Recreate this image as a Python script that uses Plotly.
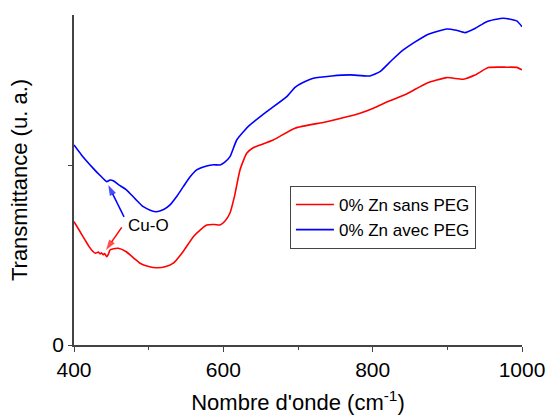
import plotly.graph_objects as go

# Wavenumbers (cm-1) and transmittance (arbitrary units)
wn_sans = [400, 407, 414.7, 420, 425.8, 429, 432.5, 435, 437, 439, 441, 443.8, 446, 448.2, 453, 459.3,
           470, 480, 488.4, 500, 510.8, 522, 533.0, 546, 559.8, 570, 577.7, 588, 595.5, 602, 608.9,
           615, 622.3, 631.3, 640, 649.1, 666.9, 696.0, 738.4, 783.0, 800.9, 822, 845.6, 872.4,
           899.2, 921.4, 937, 954.9, 979.5, 993, 1000]
t_sans = [0.688, 0.64, 0.586, 0.55, 0.520, 0.512, 0.518, 0.508, 0.514, 0.503, 0.510, 0.492, 0.505, 0.530,
          0.537, 0.539, 0.52, 0.485, 0.456, 0.438, 0.431, 0.436, 0.456, 0.52, 0.604, 0.645, 0.669, 0.672,
          0.669, 0.69, 0.736, 0.83, 0.976, 1.069, 1.10, 1.115, 1.143, 1.209, 1.245, 1.292, 1.320, 1.36,
          1.400, 1.460, 1.491, 1.482, 1.505, 1.547, 1.549, 1.548, 1.534]

wn_avec = [400, 410, 425.8, 435, 443.8, 448.2, 452.6, 460, 470.6, 482, 492.8, 502, 510.8, 520, 528.6,
           537, 546.4, 555, 564.3, 577.7, 587, 595.5, 602, 608.9, 617.9, 629.0, 635.7, 658.1, 684.9,
           696.0, 706, 720.5, 745, 769.6, 796.4, 809.8, 825, 841.0, 872.4, 899.2, 912, 923.7, 937,
           952.7, 975.0, 992.9, 1000]
t_avec = [1.115, 1.06, 0.985, 0.945, 0.911, 0.920, 0.916, 0.893, 0.864, 0.815, 0.771, 0.752, 0.743,
          0.755, 0.781, 0.825, 0.883, 0.935, 0.976, 0.998, 1.005, 1.004, 1.02, 1.050, 1.143, 1.199,
          1.227, 1.301, 1.385, 1.437, 1.462, 1.487, 1.500, 1.506, 1.500, 1.524, 1.585, 1.645, 1.729,
          1.762, 1.755, 1.742, 1.765, 1.803, 1.822, 1.807, 1.775]

names = ["0% Zn sans PEG", "0% Zn avec PEG"]
colors = ["#ff0000", "#0000ff"]
x_ticks = [400, 600, 800, 1000]
y_ticks = [0]
y_minor_ticks = [1]

# "Cu-O" label position and the two arrows (tail -> head)
label_xy = (500.4, 0.669)
arrow_blue_x = [467.0, 445.9]
arrow_blue_y = [0.714, 0.892]
arrow_red_x = [463.9, 442.9]
arrow_red_y = [0.656, 0.530]

font_family = "Arial, Liberation Sans, sans-serif"
axis_col = "#444444"

fig = go.Figure()
fig.add_trace(go.Scatter(x=wn_sans, y=t_sans, mode="lines", name=names[0],
                         line=dict(color=colors[0], width=1.6, shape="spline", smoothing=0.5)))
fig.add_trace(go.Scatter(x=wn_avec, y=t_avec, mode="lines", name=names[1],
                         line=dict(color=colors[1], width=1.6, shape="spline", smoothing=0.5)))

for ax_, ay_, c in [(arrow_blue_x, arrow_blue_y, colors[1]), (arrow_red_x, arrow_red_y, colors[0])]:
    fig.add_trace(go.Scatter(x=ax_, y=ay_, mode="lines+markers", showlegend=False, hoverinfo="skip",
                             line=dict(color=c, width=1.5),
                             marker=dict(symbol=["circle", "arrow"], size=[0, 11], color=c,
                                         angleref="previous", line=dict(width=0))))

fig.add_annotation(x=label_xy[0], y=label_xy[1], text="Cu-O", showarrow=False,
                   font=dict(size=17, color="black", family=font_family))

fig.update_layout(
    width=547, height=417,
    margin=dict(l=74, r=25, t=15, b=72, autoexpand=False),
    paper_bgcolor="white", plot_bgcolor="white",
    font=dict(family=font_family, color="black"),
    showlegend=True,
    legend=dict(x=0.482, y=0.482, xanchor="left", yanchor="top",
                bordercolor=axis_col, borderwidth=1, bgcolor="white",
                font=dict(size=17, family=font_family),
                tracegroupgap=0, itemwidth=38),
)
fig.update_xaxes(range=[400, 1000], tickvals=x_ticks, ticks="outside", ticklen=5, tickwidth=1.3,
                 tickcolor=axis_col, showline=True, linecolor=axis_col, linewidth=1.5,
                 showgrid=False, zeroline=False, tickfont=dict(size=21),
                 minor=dict(dtick=100, ticks="outside", ticklen=3, tickcolor=axis_col, tickwidth=1.3),
                 title=dict(text="Nombre d'onde (cm<sup>-1</sup>)", font=dict(size=22), standoff=15))
fig.update_yaxes(range=[0, 1.84], tickvals=y_ticks, ticks="outside", ticklen=4,
                 tickwidth=1.3, tickcolor=axis_col, showline=True, linecolor=axis_col, linewidth=1.5,
                 showgrid=False, zeroline=False, tickfont=dict(size=21),
                 minor=dict(tickvals=y_minor_ticks, ticks="outside", ticklen=4, tickcolor=axis_col,
                            tickwidth=1.3),
                 title=dict(text="Transmittance (u. a.)", font=dict(size=22), standoff=19))

fig.write_html("out.html", config={"displayModeBar": False},
               post_script=["document.body.style.margin='0px';"])
